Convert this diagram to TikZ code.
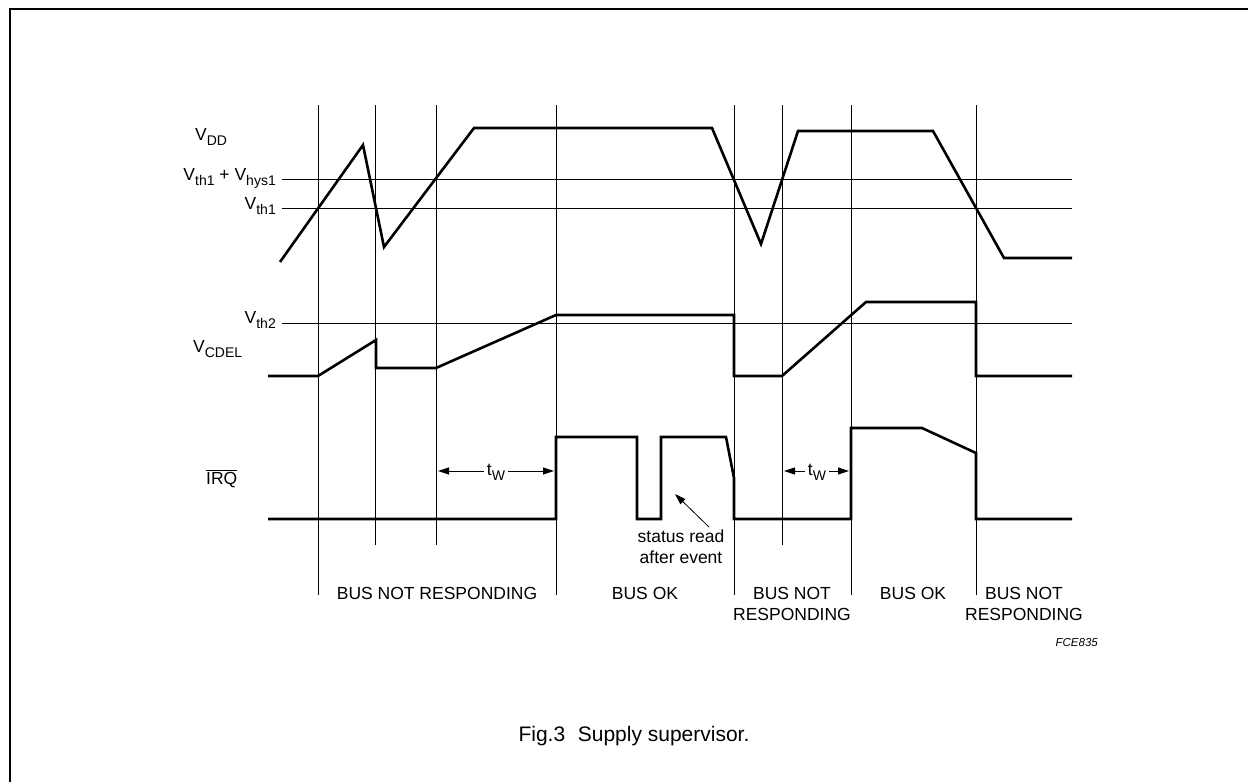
\documentclass[tikz,border=0pt]{standalone}
\usepackage{fontspec}
\setmainfont{Liberation Sans}
\usetikzlibrary{arrows.meta,positioning}

\newcommand{\sbs}[2]{#1\raisebox{-5pt}{\fontsize{14}{14}\selectfont #2}}

\begin{document}
\begin{tikzpicture}[x=1pt,y=-1pt,
    grid/.style={line width=0.9pt},
    wave/.style={line width=2.6pt,line join=miter,line cap=butt},
    lbl/.style={font=\fontsize{17.5}{21}\selectfont,inner sep=0pt},
    arr/.style={line width=0.8pt,-{Triangle[length=11pt,width=7pt]}}]
  \useasboundingbox (0,0) rectangle (1248,782);
  \draw[line width=1.8pt] (10,782) -- (10,9) -- (1248,9);

  % time marks and thresholds
  \foreach \x/\y in {318/595,375/545,436/545,556/595,734/595,782/545,851/595,976/595}
    \draw[grid] (\x,105) -- (\x,\y);
  \foreach \y in {179,208,323}
    \draw[grid] (282,\y) -- (1072,\y);

  \node[lbl,anchor=base west] (vdd) at (195,140) {\sbs{V}{DD}};
  \node[lbl,anchor=base east] (vhys) at (276,180) {\sbs{V}{th1} + \sbs{V}{hys1}};
  \node[lbl,anchor=base east] (vth1) at (276,209) {\sbs{V}{th1}};
  \node[lbl,anchor=base east] (vth2) at (276,323) {\sbs{V}{th2}};
  \node[lbl,anchor=base west] (vcdel) at (193,352) {\sbs{V}{CDEL}};
  \node[lbl,anchor=base west] (irq) at (206,484) {$\overline{\mbox{IRQ}}$};

  % waveforms
  \draw[wave] (280,262) -- (363,145) -- (384,247) -- (474,128) -- (712,128)
    -- (761,244) -- (798,131) -- (933,131) -- (1004,258) -- (1072,258);
  \draw[wave] (268,376) -- (318,376) -- (376,340) -- (376,368) -- (436,368)
    -- (556,315) -- (734,315) -- (734,376) -- (782,376) -- (866,302)
    -- (976,302) -- (976,376) -- (1072,376);
  \draw[wave] (268,519) -- (556,519) -- (556,437) -- (637,437) -- (637,519)
    -- (661,519) -- (661,437) -- (726,437) -- (734,478) -- (734,519)
    -- (851,519) -- (851,428) -- (922,428) -- (976,453) -- (976,519)
    -- (1072,519);

  % t_W
  \node[lbl,fill=white,inner xsep=3pt,inner ysep=2pt] (tw1) at (496,472) {\sbs{t}{W}};
  \coordinate (tw1l) at (438,471);
  \coordinate (tw1r) at (554,471);
  \draw[arr] (tw1.west |- tw1l) -- (tw1l);
  \draw[arr] (tw1.east |- tw1r) -- (tw1r);
  \node[lbl,fill=white,inner xsep=3pt,inner ysep=2pt] (tw2) at (817,472) {\sbs{t}{W}};
  \coordinate (tw2l) at (784,471);
  \coordinate (tw2r) at (849,471);
  \draw[arr] (tw2.west |- tw2l) -- (tw2l);
  \draw[arr] (tw2.east |- tw2r) -- (tw2r);

  \node[lbl,align=center] (status) at (681,547) {status read\\after event};
  \coordinate (sthead) at (675,494);
  \draw[arr] (709,527) -- (sthead);

  % bus states
  \node[lbl,anchor=base] (s1) at (437,599) {BUS NOT RESPONDING};
  \node[lbl,anchor=base] (s2) at (645,599) {BUS OK};
  \node[lbl,anchor=base,align=center] (s3) at (792,620) {BUS NOT\\RESPONDING};
  \node[lbl,anchor=base] (s4) at (913,599) {BUS OK};
  \node[lbl,anchor=base,align=center] (s5) at (1024,620) {BUS NOT\\RESPONDING};
  \node[font=\fontsize{11.5}{13}\selectfont\itshape,anchor=base east,inner sep=0pt] (code) at (1098,646) {FCE835};

  \node[font=\fontsize{21}{25}\selectfont,anchor=base,inner sep=0pt] (cap) at (634,741) {Fig.3\hspace{0.6em}Supply supervisor.};
\end{tikzpicture}
\end{document}
